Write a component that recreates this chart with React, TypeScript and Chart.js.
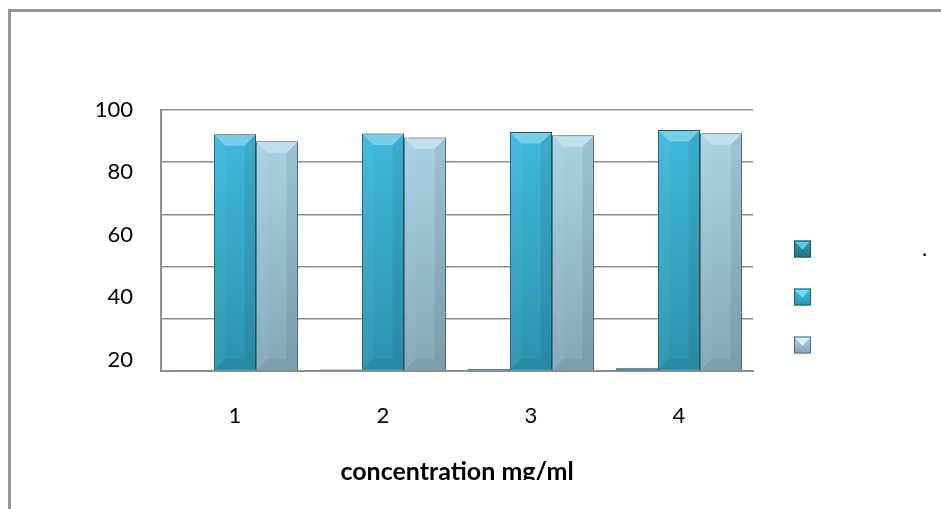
import React, { useEffect, useRef } from 'react';
import { Chart, registerables } from 'chart.js';

Chart.register(...registerables);

// ---- data ----
const categories = ['1', '2', '3', '4'];
const seriesLabels = ['.', '', ''];
const series1 = [0.5, 0.6, 0.8, 1.1];
const series2 = [90.7, 91.0, 91.6, 92.3];
const series3 = [88.0, 89.5, 90.3, 91.1];
const gridTicks = [0, 20, 40, 60, 80, 100];
const axisLabels = [20, 40, 60, 80, 100];
const xTitle = 'concentration mg/ml';

const FONT = 'Lato, "Open Sans", "DejaVu Sans", sans-serif';
const GRID = '#8e8e8e';

const palettes = [
  { top: '#3f97ab', bottom: '#23738a', edge: '#1b5666', glow: '#5cc8e2' },
  { top: '#42bde2', bottom: '#2b93ae', edge: '#1c6376', glow: '#74dcf4' },
  { top: '#acd8ea', bottom: '#84a7b7', edge: '#4f6f7c', glow: '#dcf4fc' },
];

const gradientFill = (i: number) => (ctx: any) => {
  const { chart } = ctx;
  const area = chart.chartArea;
  const p = palettes[i];
  if (!area) return p.top;
  const g = chart.ctx.createLinearGradient(0, area.top, 0, area.bottom);
  g.addColorStop(0, p.top);
  g.addColorStop(1, p.bottom);
  return g;
};

// soft shadow behind the columns plus bevelled edges on each column
const barFinish = {
  id: 'barFinish',
  beforeDatasetsDraw(chart: any) {
    const c = chart.ctx;
    c.save();
    c.shadowColor = 'rgba(0,0,0,0.3)';
    c.shadowBlur = 5;
    c.shadowOffsetX = 3;
    c.shadowOffsetY = 0;
  },
  afterDatasetsDraw(chart: any) {
    const c = chart.ctx;
    c.restore();
    chart.data.datasets.forEach((_ds: any, i: number) => {
      const meta = chart.getDatasetMeta(i);
      meta.data.forEach((el: any) => {
        const { x, y, base, width } = el.getProps(['x', 'y', 'base', 'width'], true);
        const l = x - width / 2 + 1;
        const r = x + width / 2 - 1;
        const t = y + 1;
        const bt = base - 1;
        const h = bt - t;
        const b = Math.min(11, h / 2, width / 4);
        if (b < 1.5) return;
        const poly = (pts: number[][], style: string) => {
          c.fillStyle = style;
          c.beginPath();
          c.moveTo(pts[0][0], pts[0][1]);
          for (let k = 1; k < pts.length; k++) c.lineTo(pts[k][0], pts[k][1]);
          c.closePath();
          c.fill();
        };
        c.save();
        poly([[l, t], [r, t], [r - b, t + b], [l + b, t + b]], 'rgba(255,255,255,0.30)');
        poly([[l, bt], [r, bt], [r - b, bt - b], [l + b, bt - b]], 'rgba(0,0,0,0.06)');
        poly([[l, t], [l + b, t + b], [l + b, bt - b], [l, bt]], 'rgba(255,255,255,0.04)');
        poly([[r, t], [r - b, t + b], [r - b, bt - b], [r, bt]], 'rgba(0,0,0,0.07)');
        c.restore();
      });
    });
  },
};

// legend column to the right of the plot
const sideLegend = {
  id: 'sideLegend',
  afterDraw(chart: any) {
    const { ctx: c, chartArea: a } = chart;
    chart.data.datasets.forEach((ds: any, i: number) => {
      const p = palettes[i];
      const size = 17;
      const x0 = a.right + 41;
      const cy = a.top + 139 + i * 48;
      const y0 = cy - size / 2;
      c.save();
      const g = c.createLinearGradient(0, y0, 0, y0 + size);
      g.addColorStop(0, p.top);
      g.addColorStop(1, p.bottom);
      c.fillStyle = g;
      c.fillRect(x0, y0, size, size);
      c.fillStyle = p.glow;
      c.beginPath();
      c.moveTo(x0 + 1, y0 + 1);
      c.lineTo(x0 + size - 1, y0 + 1);
      c.lineTo(x0 + size / 2, y0 + size * 0.55);
      c.closePath();
      c.fill();
      c.strokeStyle = p.edge;
      c.lineWidth = 1;
      c.strokeRect(x0 + 0.5, y0 + 0.5, size - 1, size - 1);
      if (ds.label) {
        c.fillStyle = '#000';
        c.font = `22px ${FONT}`;
        c.textBaseline = 'middle';
        c.textAlign = 'left';
        c.fillText(ds.label, x0 + 128, cy);
      }
      c.restore();
    });
  },
};

export default function App() {
  const ref = useRef<HTMLCanvasElement>(null);

  useEffect(() => {
    if (!ref.current) return;
    Chart.defaults.font.family = FONT;
    const values = [series1, series2, series3];
    const chart = new Chart(ref.current, {
      type: 'bar',
      data: {
        labels: categories,
        datasets: values.map((data, i) => ({
          label: seriesLabels[i],
          data,
          backgroundColor: gradientFill(i),
          borderColor: palettes[i].edge,
          borderWidth: 1,
          categoryPercentage: 0.853,
          barPercentage: 1,
          yAxisID: 'y',
        })),
      },
      options: {
        responsive: false,
        animation: false,
        devicePixelRatio: 1,
        layout: { padding: { top: 98, right: 188, left: 0, bottom: 0 } },
        plugins: {
          legend: { display: false },
          tooltip: { enabled: false },
        },
        scales: {
          x: {
            type: 'category',
            position: 'bottom',
            afterFit: (s: any) => {
              s.height = 109;
            },
            grid: { display: false, drawTicks: false },
            border: { color: GRID, width: 2 },
            ticks: { padding: 32, color: '#000', font: { family: FONT, size: 22 } },
            title: {
              display: true,
              text: xTitle,
              color: '#000',
              font: { family: FONT, size: 25, weight: 'bold' },
              padding: { top: 0, bottom: -7 },
            },
          },
          y: {
            type: 'linear',
            position: 'left',
            weight: 0,
            min: 0,
            max: 100,
            afterBuildTicks: (s: any) => {
              s.ticks = gridTicks.map((v) => ({ value: v }));
            },
            afterFit: (s: any) => {
              s.width = 0;
            },
            ticks: { display: false },
            grid: { color: GRID, lineWidth: 1.5, drawTicks: false },
            border: { color: GRID, width: 2 },
          },
          // tick-label axis, drawn slightly offset from the gridline axis
          yLabels: {
            type: 'linear',
            position: 'left',
            weight: 1,
            min: 16.3,
            max: 99.9,
            afterBuildTicks: (s: any) => {
              s.ticks = axisLabels.map((v) => ({ value: v }));
            },
            afterFit: (s: any) => {
              s.width = 150;
            },
            grid: { display: false, drawTicks: false },
            border: { display: false },
            ticks: { padding: 28, color: '#000', font: { family: FONT, size: 22 } },
          },
        },
      } as any,
      plugins: [barFinish, sideLegend],
    });
    return () => chart.destroy();
  }, []);

  return (
    <div
      style={{
        position: 'fixed',
        left: 8,
        top: 9,
        right: 0,
        bottom: 0,
        borderTop: '3px solid #969696',
        borderLeft: '3px solid #969696',
        background: '#fff',
      }}
    >
      <canvas ref={ref} width={930} height={468} style={{ display: 'block', width: 930, height: 468 }} />
    </div>
  );
}
